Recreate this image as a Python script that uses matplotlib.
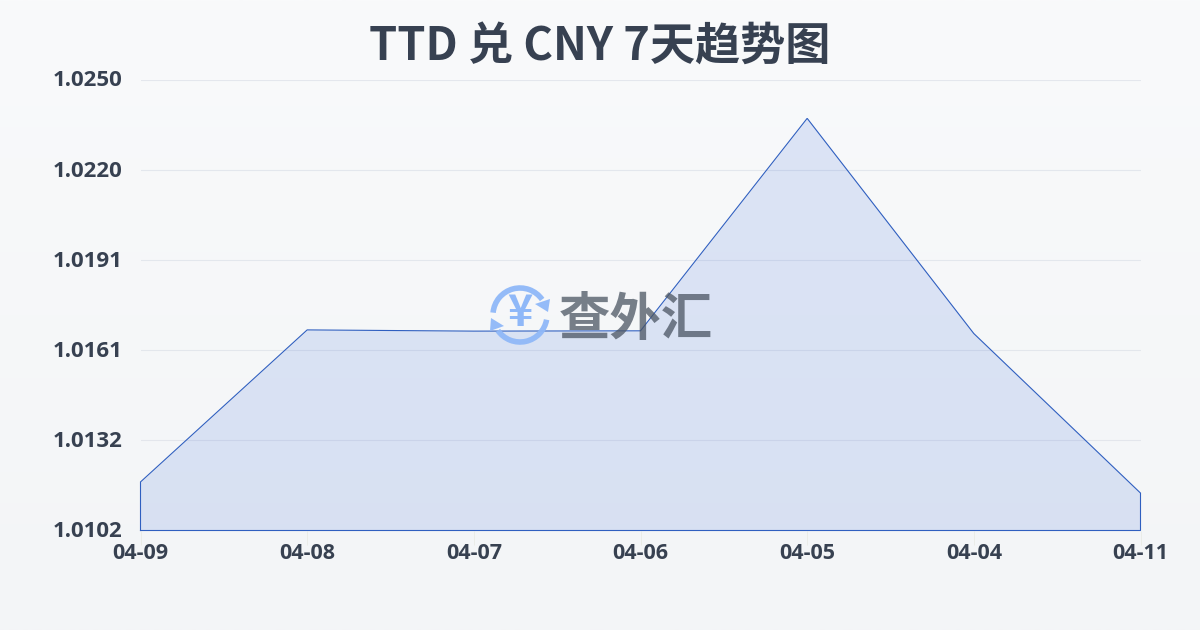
import numpy as np
import matplotlib
matplotlib.use('Agg')
import matplotlib.pyplot as plt
from matplotlib.patches import Arc, Polygon
from matplotlib.transforms import ScaledTranslation

plt.rcParams['font.family'] = ['Noto Sans CJK SC', 'DejaVu Sans']

dates = ['04-09', '04-08', '04-07', '04-06', '04-05', '04-04', '04-11']
rates = [1.011795, 1.01679, 1.01675, 1.01676, 1.02374, 1.01667, 1.01143]
y_ticks = [1.0102, 1.01316, 1.01612, 1.01908, 1.02204, 1.0250]
y_labels = ['1.0102', '1.0132', '1.0161', '1.0191', '1.0220', '1.0250']
title = 'TTD 兑 CNY 7天趋势图'
watermark = '查外汇'

W, H = 1200, 630
fig = plt.figure(figsize=(W / 100, H / 100), dpi=100)

bg = fig.add_axes([0, 0, 1, 1], zorder=0)
bg.imshow(np.linspace(0, 1, 256).reshape(-1, 1), aspect='auto', extent=[0, W, H, 0],
          cmap=matplotlib.colors.LinearSegmentedColormap.from_list('b', ['#f9fafb', '#f3f5f7']))
bg.set_xlim(0, W); bg.set_ylim(H, 0); bg.axis('off')

ax = fig.add_axes([140.5 / W, 1 - 530.5 / H, 1000 / W, 450.5 / H], zorder=1)
ax.patch.set_alpha(0)
x = np.arange(len(dates))
ax.set_xlim(0, len(dates) - 1)
ax.set_ylim(y_ticks[0], y_ticks[-1])
ax.fill_between(x, rates, y_ticks[0], color='#3c6bdc', alpha=0.15, lw=0, zorder=2)
ax.plot(np.r_[x[0], x, x[-1], x[0]], np.r_[y_ticks[0], rates, y_ticks[0], y_ticks[0]],
        color='#2f5fc0', lw=0.8, zorder=3, clip_on=False, solid_joinstyle='miter')
ax.set_yticks(y_ticks, y_labels)
ax.set_xticks(x, dates)
ax.grid(axis='y', color='#dfe3ea', lw=0.8, alpha=0.8, zorder=1)
for s in ax.spines.values():
    s.set_visible(False)
ax.tick_params(axis='y', length=0, pad=13, labelsize=16, labelcolor='#374151')
ax.tick_params(axis='x', length=10, width=0.6, color='#e9ebe6', pad=-1, labelsize=15.5, labelcolor='#374151')
up = ScaledTranslation(0, 1.5 / 100, fig.dpi_scale_trans)
for t in ax.get_yticklabels():
    t.set_transform(t.get_transform() + up)
for t in ax.get_yticklabels() + ax.get_xticklabels():
    t.set_fontfamily(['Open Sans', 'DejaVu Sans'])
    t.set_fontweight('bold')

fig.text(600 / W, 1 - 47 / H, title, ha='center', va='center', fontsize=32.5,
         fontweight='bold', color='#374151', zorder=5)

# watermark overlay in pixel coordinates
ov = fig.add_axes([0, 0, 1, 1], zorder=4)
ov.set_xlim(0, W); ov.set_ylim(H, 0); ov.axis('off'); ov.patch.set_alpha(0)
blue = '#8fb8f8'
cx, cy, d = 520, 315, 54
ov.add_patch(Arc((cx, cy), d, d, theta1=185, theta2=325, color=blue, lw=4, alpha=0.95))
ov.add_patch(Arc((cx, cy), d, d, theta1=10, theta2=145, color=blue, lw=4, alpha=0.95))
ov.add_patch(Polygon([(550, 299), (548, 312), (535, 304)], color=blue, alpha=0.95, lw=0))
ov.add_patch(Polygon([(490, 331), (491, 318), (504, 326)], color=blue, alpha=0.95, lw=0))
ov.text(cx, cy - 2, '¥', ha='center', va='center', fontsize=31, fontweight='bold', color=blue)
ov.text(636, 319, watermark, ha='center', va='center', fontsize=37, fontweight='bold',
        color='#4b5563', alpha=0.75)

fig.savefig('out.png', dpi=100)
